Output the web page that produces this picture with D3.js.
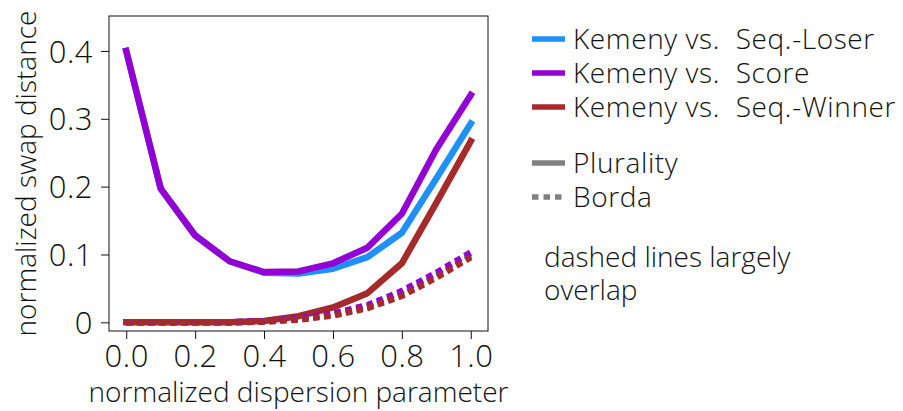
<!DOCTYPE html>
<html>
<head>
<meta charset="utf-8">
<script src="https://cdn.jsdelivr.net/npm/d3@7"></script>
<style>
  body { margin: 0; background: #fff; }
  svg text { font-family: "Open Sans", sans-serif; font-weight: 300; fill: #111; }
</style>
</head>
<body>
<div id="chart"></div>
<script>
'use strict';

// dispersion parameter values
var xs = [0.0, 0.1, 0.2, 0.3, 0.4, 0.5, 0.6, 0.7, 0.8, 0.9, 1.0];
var xTicks = [0.0, 0.2, 0.4, 0.6, 0.8, 1.0];
var yTicks = [0, 0.1, 0.2, 0.3, 0.4];

// Plurality (solid)
var loserPlurality  = [0.400, 0.197, 0.128, 0.090, 0.073, 0.072, 0.079, 0.096, 0.132, 0.212, 0.293];
var scorePlurality  = [0.400, 0.197, 0.128, 0.090, 0.074, 0.075, 0.087, 0.110, 0.160, 0.255, 0.335];
var winnerPlurality = [0.000, 0.000, 0.000, 0.000, 0.002, 0.009, 0.022, 0.043, 0.087, 0.176, 0.267];

// Borda (dotted)
var loserBorda  = [0.000, 0.000, 0.000, 0.000, 0.001, 0.005, 0.011, 0.022, 0.042, 0.069, 0.099];
var scoreBorda  = [0.000, 0.000, 0.000, 0.000, 0.002, 0.006, 0.013, 0.025, 0.046, 0.073, 0.103];
var winnerBorda = [0.000, 0.000, 0.000, 0.000, 0.001, 0.004, 0.010, 0.021, 0.039, 0.066, 0.096];

var seriesNames = ['Kemeny vs.  Seq.-Loser', 'Kemeny vs.  Score', 'Kemeny vs.  Seq.-Winner'];
var seriesColors = ['#1e90ff', '#9400d3', '#a52a2a'];
var styleNames = ['Plurality', 'Borda'];
var note = ['dashed lines largely', 'overlap'];

var W = 903, H = 411;
var margin = {top: 16, left: 109, right: 415, bottom: 80};
var width = W - margin.left - margin.right,
  height = H - margin.top - margin.bottom;

var svg = d3.select('#chart').append('svg')
  .attr('width', W)
  .attr('height', H);

var g = svg.append('g')
  .attr('transform', 'translate(' + margin.left + ',' + margin.top + ')');

var x = d3.scaleLinear().domain([-0.05, 1.05]).range([0, width]);
var y = d3.scaleLinear().domain([-0.0128, 0.4515]).range([height, 0]);

var fs = 28, tfs = 31;

// axes
var xAxis = g.append('g')
  .attr('transform', 'translate(0,' + height + ')')
  .call(d3.axisBottom(x).tickValues(xTicks).tickFormat(d3.format('.1f')).tickSize(8).tickPadding(6));
var yAxis = g.append('g')
  .call(d3.axisLeft(y).tickValues(yTicks).tickFormat(function(d) { return d === 0 ? '0' : d3.format('.1f')(d); }).tickSize(8).tickPadding(8));

[xAxis, yAxis].forEach(function(a) {
  a.select('.domain').remove();
  a.selectAll('line').attr('stroke', '#111');
  a.selectAll('text').style('font-size', tfs + 'px').style('letter-spacing', '0.5px').attr('fill', '#111');
});
yAxis.selectAll('text').attr('dy', '0.36em');

g.append('rect')
  .attr('width', width)
  .attr('height', height)
  .attr('fill', 'none')
  .attr('stroke', '#111')
  .attr('stroke-width', 1);

var line = d3.line()
  .x(function(d, i) { return x(xs[i]); })
  .y(function(d) { return y(d); });

var solids = [loserPlurality, scorePlurality, winnerPlurality];
var dotted = [loserBorda, scoreBorda, winnerBorda];

solids.forEach(function(s, i) {
  g.append('path')
    .datum(s)
    .attr('d', line)
    .attr('fill', 'none')
    .attr('stroke', seriesColors[i])
    .attr('stroke-width', 6.5)
    .attr('stroke-linejoin', 'round')
    .attr('stroke-linecap', 'square');
});

dotted.forEach(function(s, i) {
  g.append('path')
    .datum(s)
    .attr('d', line)
    .attr('fill', 'none')
    .attr('stroke', seriesColors[i])
    .attr('stroke-width', 6.5)
    .attr('stroke-dasharray', '6.5,4.5')
    .attr('stroke-linecap', 'butt');
});

// axis labels
svg.append('text')
  .attr('x', margin.left + width / 2)
  .attr('y', 402)
  .attr('text-anchor', 'middle')
  .style('font-size', fs + 'px')
  .text('normalized dispersion parameter');

svg.append('text')
  .attr('transform', 'translate(36,' + (margin.top + height / 2) + ') rotate(-90)')
  .attr('text-anchor', 'middle')
  .style('font-size', fs + 'px')
  .text('normalized swap distance');

// legend
var leg = svg.append('g').attr('transform', 'translate(532,0)');
var rowY = [39, 73, 107, 163, 197];

seriesNames.forEach(function(n, i) {
  leg.append('line')
    .attr('x1', 0).attr('x2', 33)
    .attr('y1', rowY[i]).attr('y2', rowY[i])
    .attr('stroke', seriesColors[i])
    .attr('stroke-width', 5.5);
  leg.append('text')
    .attr('x', 41)
    .attr('y', rowY[i] + 10)
    .style('font-size', fs + 'px')
    .style('letter-spacing', '0.6px')
    .style('white-space', 'pre')
    .text(n);
});

styleNames.forEach(function(n, i) {
  leg.append('line')
    .attr('x1', 0).attr('x2', 33)
    .attr('y1', rowY[3 + i]).attr('y2', rowY[3 + i])
    .attr('stroke', '#808080')
    .attr('stroke-width', 5.5)
    .attr('stroke-dasharray', i === 1 ? '6.5,5' : null);
  leg.append('text')
    .attr('x', 41)
    .attr('y', rowY[3 + i] + 10)
    .style('font-size', fs + 'px')
    .style('letter-spacing', '0.6px')
    .text(n);
});

note.forEach(function(t, i) {
  svg.append('text')
    .attr('x', 544)
    .attr('y', 267 + i * 33)
    .style('font-size', fs + 'px')
    .text(t);
});
</script>
</body>
</html>
